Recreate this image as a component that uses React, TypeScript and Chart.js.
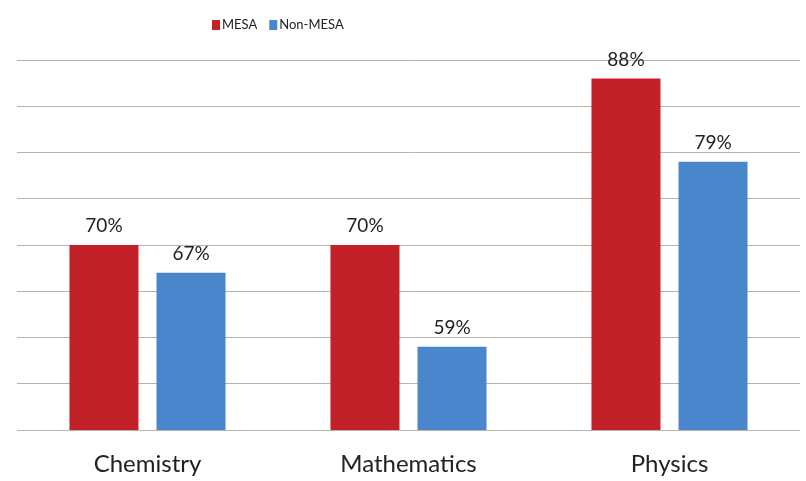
import React, { useEffect, useRef } from "react";
import { Chart, registerables } from "chart.js";

Chart.register(...registerables);

const categories = ["Chemistry", "Mathematics", "Physics"];
const seriesNames = ["MESA", "Non-MESA"];
const mesaValues = [70, 70, 88];
const nonMesaValues = [67, 59, 79];
const seriesColors = ["#C32129", "#4A86CB"];
const yMin = 50;
const yMax = 90;
const yStep = 5;

const FONT = "Lato, 'Open Sans', sans-serif";

const valueLabelPlugin = {
  id: "valueLabels",
  afterDatasetsDraw(chart: any) {
    const ctx = chart.ctx;
    ctx.save();
    ctx.font = `19px ${FONT}`;
    ctx.fillStyle = "#222";
    ctx.textAlign = "center";
    ctx.textBaseline = "alphabetic";
    chart.data.datasets.forEach((ds: any, di: number) => {
      const meta = chart.getDatasetMeta(di);
      meta.data.forEach((bar: any, i: number) => {
        ctx.fillText(`${ds.data[i]}%`, bar.x, bar.y - 13);
      });
    });
    ctx.restore();
  },
};

const legendPlugin = {
  id: "customLegend",
  afterDraw(chart: any) {
    const ctx = chart.ctx;
    ctx.save();
    ctx.font = `13px ${FONT}`;
    ctx.textBaseline = "middle";
    ctx.textAlign = "left";
    let x = 212;
    const y = 25;
    chart.data.datasets.forEach((ds: any) => {
      ctx.fillStyle = ds.backgroundColor;
      ctx.fillRect(x, y - 5, 8, 10);
      x += 10;
      ctx.fillStyle = "#222";
      ctx.fillText(ds.label, x, y);
      x += ctx.measureText(ds.label).width + 12;
    });
    ctx.restore();
  },
};

export default function App() {
  const ref = useRef<HTMLCanvasElement | null>(null);

  useEffect(() => {
    document.body.style.margin = "0";
    const canvas = ref.current;
    if (!canvas) return;
    const chart = new Chart(canvas, {
      type: "bar",
      data: {
        labels: categories,
        datasets: [
          { label: seriesNames[0], data: mesaValues, backgroundColor: seriesColors[0] },
          { label: seriesNames[1], data: nonMesaValues, backgroundColor: seriesColors[1] },
        ],
      },
      options: {
        animation: false,
        responsive: false,
        maintainAspectRatio: false,
        layout: { padding: { top: 60, bottom: 0, left: 17, right: 6 } },
        datasets: {
          bar: { categoryPercentage: 0.667, barPercentage: 0.793 },
        },
        plugins: {
          legend: { display: false },
          tooltip: { enabled: false },
          title: { display: false },
        },
        scales: {
          x: {
            grid: { display: false, drawTicks: false },
            border: { display: false },
            ticks: { font: { size: 24, family: FONT }, color: "#222", padding: 20 },
            afterFit(scale: any) {
              scale.height = 51;
            },
          },
          y: {
            min: yMin,
            max: yMax,
            ticks: { display: false, stepSize: yStep },
            grid: { color: "#b9b1aa", lineWidth: 1, drawTicks: false },
            border: { display: false },
          },
        },
      },
      plugins: [valueLabelPlugin, legendPlugin],
    });
    return () => chart.destroy();
  }, []);

  return <canvas ref={ref} width={806} height={481} style={{ display: "block" }} />;
}
